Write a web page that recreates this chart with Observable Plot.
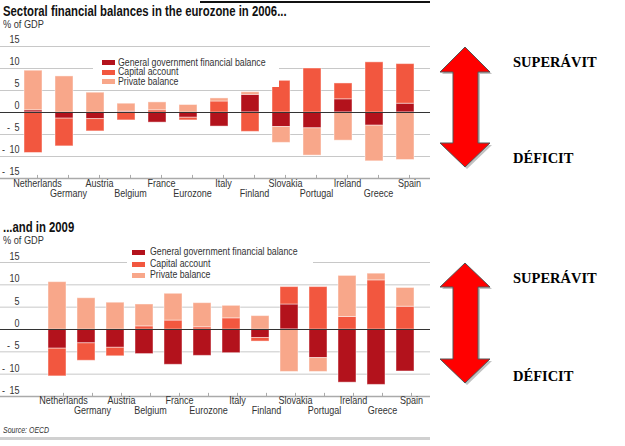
<!DOCTYPE html>
<html><head><meta charset="utf-8">
<script src="https://cdn.jsdelivr.net/npm/d3@7"></script>
<script src="https://cdn.jsdelivr.net/npm/@observablehq/plot@0.6"></script>
<style>
body{margin:0;width:625px;height:446px;background:#fff;position:relative;overflow:hidden;font-family:"Liberation Sans",Arial,sans-serif;}
.abs{position:absolute;white-space:nowrap;}
.title{font-weight:bold;font-size:14px;color:#111;left:3px;line-height:13px;transform:scaleX(0.81);transform-origin:0 0;}
.unit{font-size:10px;color:#333;left:3px;line-height:9px;transform:scaleX(0.92);transform-origin:0 0;}
.lg{background:#fff;}
.lgrow{position:absolute;font-size:10.2px;color:#333;line-height:8px;transform:scaleX(0.86);transform-origin:0 0;}
.sw{position:absolute;width:13px;height:5px;}
.atxt{font-family:"Liberation Serif","Times New Roman",serif;font-weight:bold;font-size:14.5px;color:#000;line-height:14px;left:513px;}
.src{font-size:8.5px;font-style:italic;color:#333;left:3px;line-height:8px;transform:scaleX(0.82);transform-origin:0 0;}
svg{overflow:visible;}
</style></head><body>
<div class="abs" style="left:200px;top:1px;width:230px;height:2px;background:#111"></div>
<div class="abs title" style="top:5px">Sectoral financial balances in the eurozone in 2006...</div>
<div class="abs unit" style="top:20px">% of GDP</div>
<div id="c1" class="abs" style="left:0;top:30px"></div>
<div class="abs title" style="top:221px">...and in 2009</div>
<div class="abs unit" style="top:236px">% of GDP</div>
<div id="c2" class="abs" style="left:0;top:246px"></div>
<div class="abs src" style="top:426px">Source: OECD</div>
<div class="abs" style="left:0;top:437px;width:430px;height:3px;background:#d0d0d0"></div>
<div id="lg1" class="abs lg" style="left:93px;top:54px;width:186px;height:33px"></div>
<div id="lg2" class="abs lg" style="left:127px;top:245px;width:186px;height:36px"></div>
<svg class="abs" style="left:0;top:0" width="625" height="446">
  <g id="arrows"></g>
</svg>
<div class="abs atxt" style="top:55px">SUPERÁVIT</div>
<div class="abs atxt" style="top:151px">DÉFICIT</div>
<div class="abs atxt" style="top:271px">SUPERÁVIT</div>
<div class="abs atxt" style="top:369px">DÉFICIT</div>
<script>
const countries = ["Netherlands","Germany","Austria","Belgium","France","Eurozone","Italy","Finland","Slovakia","Portugal","Ireland","Greece","Spain"];
const series = ["General government financial balance","Capital account","Private balance"];
const colors = ["#b3121c","#f2573f","#f8a78a"];
const yTicks = [-15,-10,-5,0,5,10,15];
// 2006
const gov2006  = [0.5,-1.4,-1.5,0.2,-2.3,-1.2,-3.2,4.0,-3.3,-3.6,3.0,-3.0,2.0];
const cap2006  = [-9.2,-6.3,-2.8,-1.8,0.5,-0.6,2.5,-4.4,7.2,10.0,3.6,11.4,9.0];
const priv2006 = [9.0,8.2,4.5,1.8,1.8,1.7,0.7,0.6,-3.6,-6.2,-6.4,-8.1,-10.8];
// 2009
const gov2009  = [-4.3,-3.1,-4.1,-5.5,-7.9,-5.9,-5.3,-1.9,5.6,-6.4,-11.9,-12.4,-9.4];
const cap2009  = [-6.2,-3.9,-1.9,0.7,2.0,0.5,2.5,-0.8,3.9,9.5,2.8,11.0,5.1];
const priv2009 = [10.6,7.0,6.0,4.9,6.0,5.4,2.8,3.0,-9.5,-3.1,9.2,1.5,4.2];

const FONT = '"Liberation Sans",Arial,sans-serif';
const fmt = d => d < 0 ? "-\u2002" + Math.abs(d) : String(d);

function makeChart(gov, cap, priv, o) {
  const rows = [];
  [gov, cap, priv].forEach((arr, s) => arr.forEach((v, i) => rows.push({country: countries[i], series: series[s], value: v})));
  return Plot.plot({
    width: 430, height: o.height, marginLeft: 0, marginRight: 0, marginTop: 16, marginBottom: o.height - 16 - o.inner,
    style: {fontFamily: FONT, fontSize: "10.5px", color: "#333", overflow: "visible", background: "transparent"},
    x: {type: "band", domain: countries, paddingInner: o.pi, paddingOuter: o.po, align: o.align, axis: null},
    y: {domain: [-15, 15], axis: null},
    color: {domain: series, range: colors},
    marks: [
      Plot.ruleY(yTicks.filter(d => d !== 0 && d !== -15), {y: d => d, stroke: "#c8c8c8", strokeWidth: 1}),
      Plot.barY(rows, {x: "country", y: "value", fill: "series", stroke: "#fff", strokeOpacity: 0.45, strokeWidth: 1}),
      Plot.ruleY([0], {y: d => d, stroke: "#333", strokeWidth: 1}),
      Plot.ruleY([-15], {y: d => d, stroke: "#aaa", strokeWidth: 1.5}),
      Plot.ruleX(countries, {x: d => d, y1: -15, y2: -14.3, dx: o.tdx, stroke: "#aaa"}),
      Plot.text(yTicks, {y: d => d, text: fmt, frameAnchor: "left", dx: 19, dy: o.ydy, textAnchor: "end", fill: "#333"}),
      Plot.text(countries.filter((d, i) => i % 2 === 0), {x: d => d, text: d => d, frameAnchor: "bottom", dy: o.r1, dx: o.tdx, fill: "#333"}),
      Plot.text(countries.filter((d, i) => i % 2 === 1), {x: d => d, text: d => d, frameAnchor: "bottom", dy: o.r2, dx: o.tdx, fill: "#333"})
    ]
  });
}

function condense(svg, k) {
  svg.querySelectorAll("text").forEach(t => {
    const L = t.getComputedTextLength();
    if (L > 0) {
      t.setAttribute("textLength", (L * k).toFixed(1));
      t.setAttribute("lengthAdjust", "spacingAndGlyphs");
    }
  });
}

const s1 = makeChart(gov2006, cap2006, priv2006,
  {height: 170, inner: 132, pi: 0.42, po: 0.6, align: 0.6, tdx: 4, ydy: -6.5, r1: 8, r2: 18});
document.getElementById("c1").append(s1);
condense(s1, 0.86);
const s2 = makeChart(gov2009, cap2009, priv2009,
  {height: 174, inner: 134, pi: 0.39, po: 0.94, align: 0.75, tdx: 6, ydy: -6, r1: 7, r2: 17});
document.getElementById("c2").append(s2);
condense(s2, 0.86);

function legend(id, swLeft, txtLeft, rowsY) {
  const el = document.getElementById(id);
  const box = el.getBoundingClientRect();
  series.forEach((s, i) => {
    const sw = document.createElement("div");
    sw.className = "sw";
    sw.style.background = colors[i];
    sw.style.left = (swLeft - box.left) + "px";
    sw.style.top = (rowsY[i] - 2.5 - box.top) + "px";
    el.append(sw);
    const t = document.createElement("div");
    t.className = "lgrow";
    t.textContent = s;
    t.style.left = (txtLeft - box.left) + "px";
    t.style.top = (rowsY[i] - 4 - box.top) + "px";
    el.append(t);
  });
}
legend("lg1", 102, 118, [62.5, 72, 81.5]);
legend("lg2", 132, 150, [252, 264, 275]);

function arrow(g, yTop, yHeadB, yTailB, yBot) {
  const pts = [[465, yTop], [490, yHeadB], [478, yHeadB], [478, yTailB], [490, yTailB], [465, yBot], [440, yTailB], [453, yTailB], [453, yHeadB], [440, yHeadB]];
  const p = pts.map(d => d.join(",")).join(" ");
  const ns = "http://www.w3.org/2000/svg";
  const sh = document.createElementNS(ns, "polygon");
  sh.setAttribute("points", pts.map(d => (d[0] + 2) + "," + (d[1] + 2)).join(" "));
  sh.setAttribute("fill", "#999");
  sh.setAttribute("opacity", "0.6");
  g.append(sh);
  const a = document.createElementNS(ns, "polygon");
  a.setAttribute("points", p);
  a.setAttribute("fill", "#ff0000");
  a.setAttribute("stroke", "#555");
  a.setAttribute("stroke-width", "1");
  g.append(a);
}
const g = document.getElementById("arrows");
arrow(g, 47, 72, 143, 167);
arrow(g, 263, 287, 359, 383);
</script>
</body></html>
